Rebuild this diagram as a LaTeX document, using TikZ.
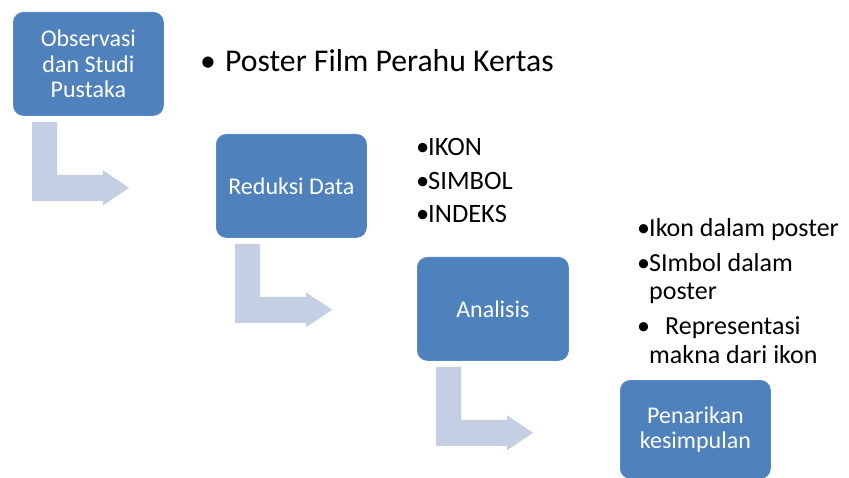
\documentclass[tikz,border=0pt]{standalone}
\usepackage{fontspec}
\setmainfont{Carlito}
\usetikzlibrary{calc}
\definecolor{boxblue}{HTML}{4F81BD}
\definecolor{boxedge}{HTML}{5A8AC6}
\definecolor{arrowfill}{HTML}{C5CFE3}
\begin{document}
\begin{tikzpicture}[x=1pt,y=-1pt,
  stagebox/.style={rounded corners=10pt, fill=boxblue, draw=boxedge, line width=0.8pt,
    minimum width=150pt, minimum height=103pt, anchor=north west, inner sep=2pt,
    text=white, align=center, font=\fontsize{24}{25.5}\selectfont},
  bigtxt/.style={anchor=base west, inner sep=0pt, font=\fontsize{31.7}{36}\selectfont},
  midtxt/.style={anchor=base west, inner sep=0pt, font=\fontsize{26.5}{30}\selectfont},
  smalltxt/.style={anchor=base west, inner sep=0pt, font=\fontsize{26}{30}\selectfont},
  bent/.style={fill=arrowfill, draw=none}]
\useasboundingbox (0,0) rectangle (849,478);
\fill[white] (0,0) rectangle (849,478);

\node[stagebox] (b1) at (13,12) {Observasi\\dan Studi\\Pustaka};
\node[stagebox] (b2) at (216,134) {Reduksi Data};
\node[stagebox, minimum width=151pt] (b3) at (417,257) {Analisis};
\node[stagebox, minimum height=98pt] (b4) at (620,380) {Penarikan\\kesimpulan};

\foreach \b in {b1,b2,b3}{
  \fill[bent] ($(\b.south west)+(19,6)$) -- ++(25,0) -- ++(0,53) -- ++(46,0)
     -- ++(0,-4.5) -- ++(26,17.5) -- ++(-26,17.5) -- ++(0,-4.5) -- ++(-71,0) -- cycle;
}

\node[bigtxt] (t1) at (200,72) {\makebox[25pt][l]{•}Poster Film Perahu Kertas};

\node[midtxt] (l1) at (416,156) {\makebox[12pt][l]{•}IKON};
\node[midtxt] (l2) at (416,190) {\makebox[12pt][l]{•}SIMBOL};
\node[midtxt] (l3) at (416,223) {\makebox[12pt][l]{•}INDEKS};

\node[smalltxt] (r1) at (637,237) {\makebox[12pt][l]{•}Ikon dalam poster};
\node[smalltxt] (r2) at (637,272) {\makebox[12pt][l]{•}SImbol dalam};
\node[smalltxt] (r2b) at (649,300) {poster};
\node[smalltxt] (r3) at (637,335) {\makebox[28pt][l]{•}Representasi};
\node[smalltxt] (r3b) at (649,363) {makna dari ikon};
\end{tikzpicture}
\end{document}
